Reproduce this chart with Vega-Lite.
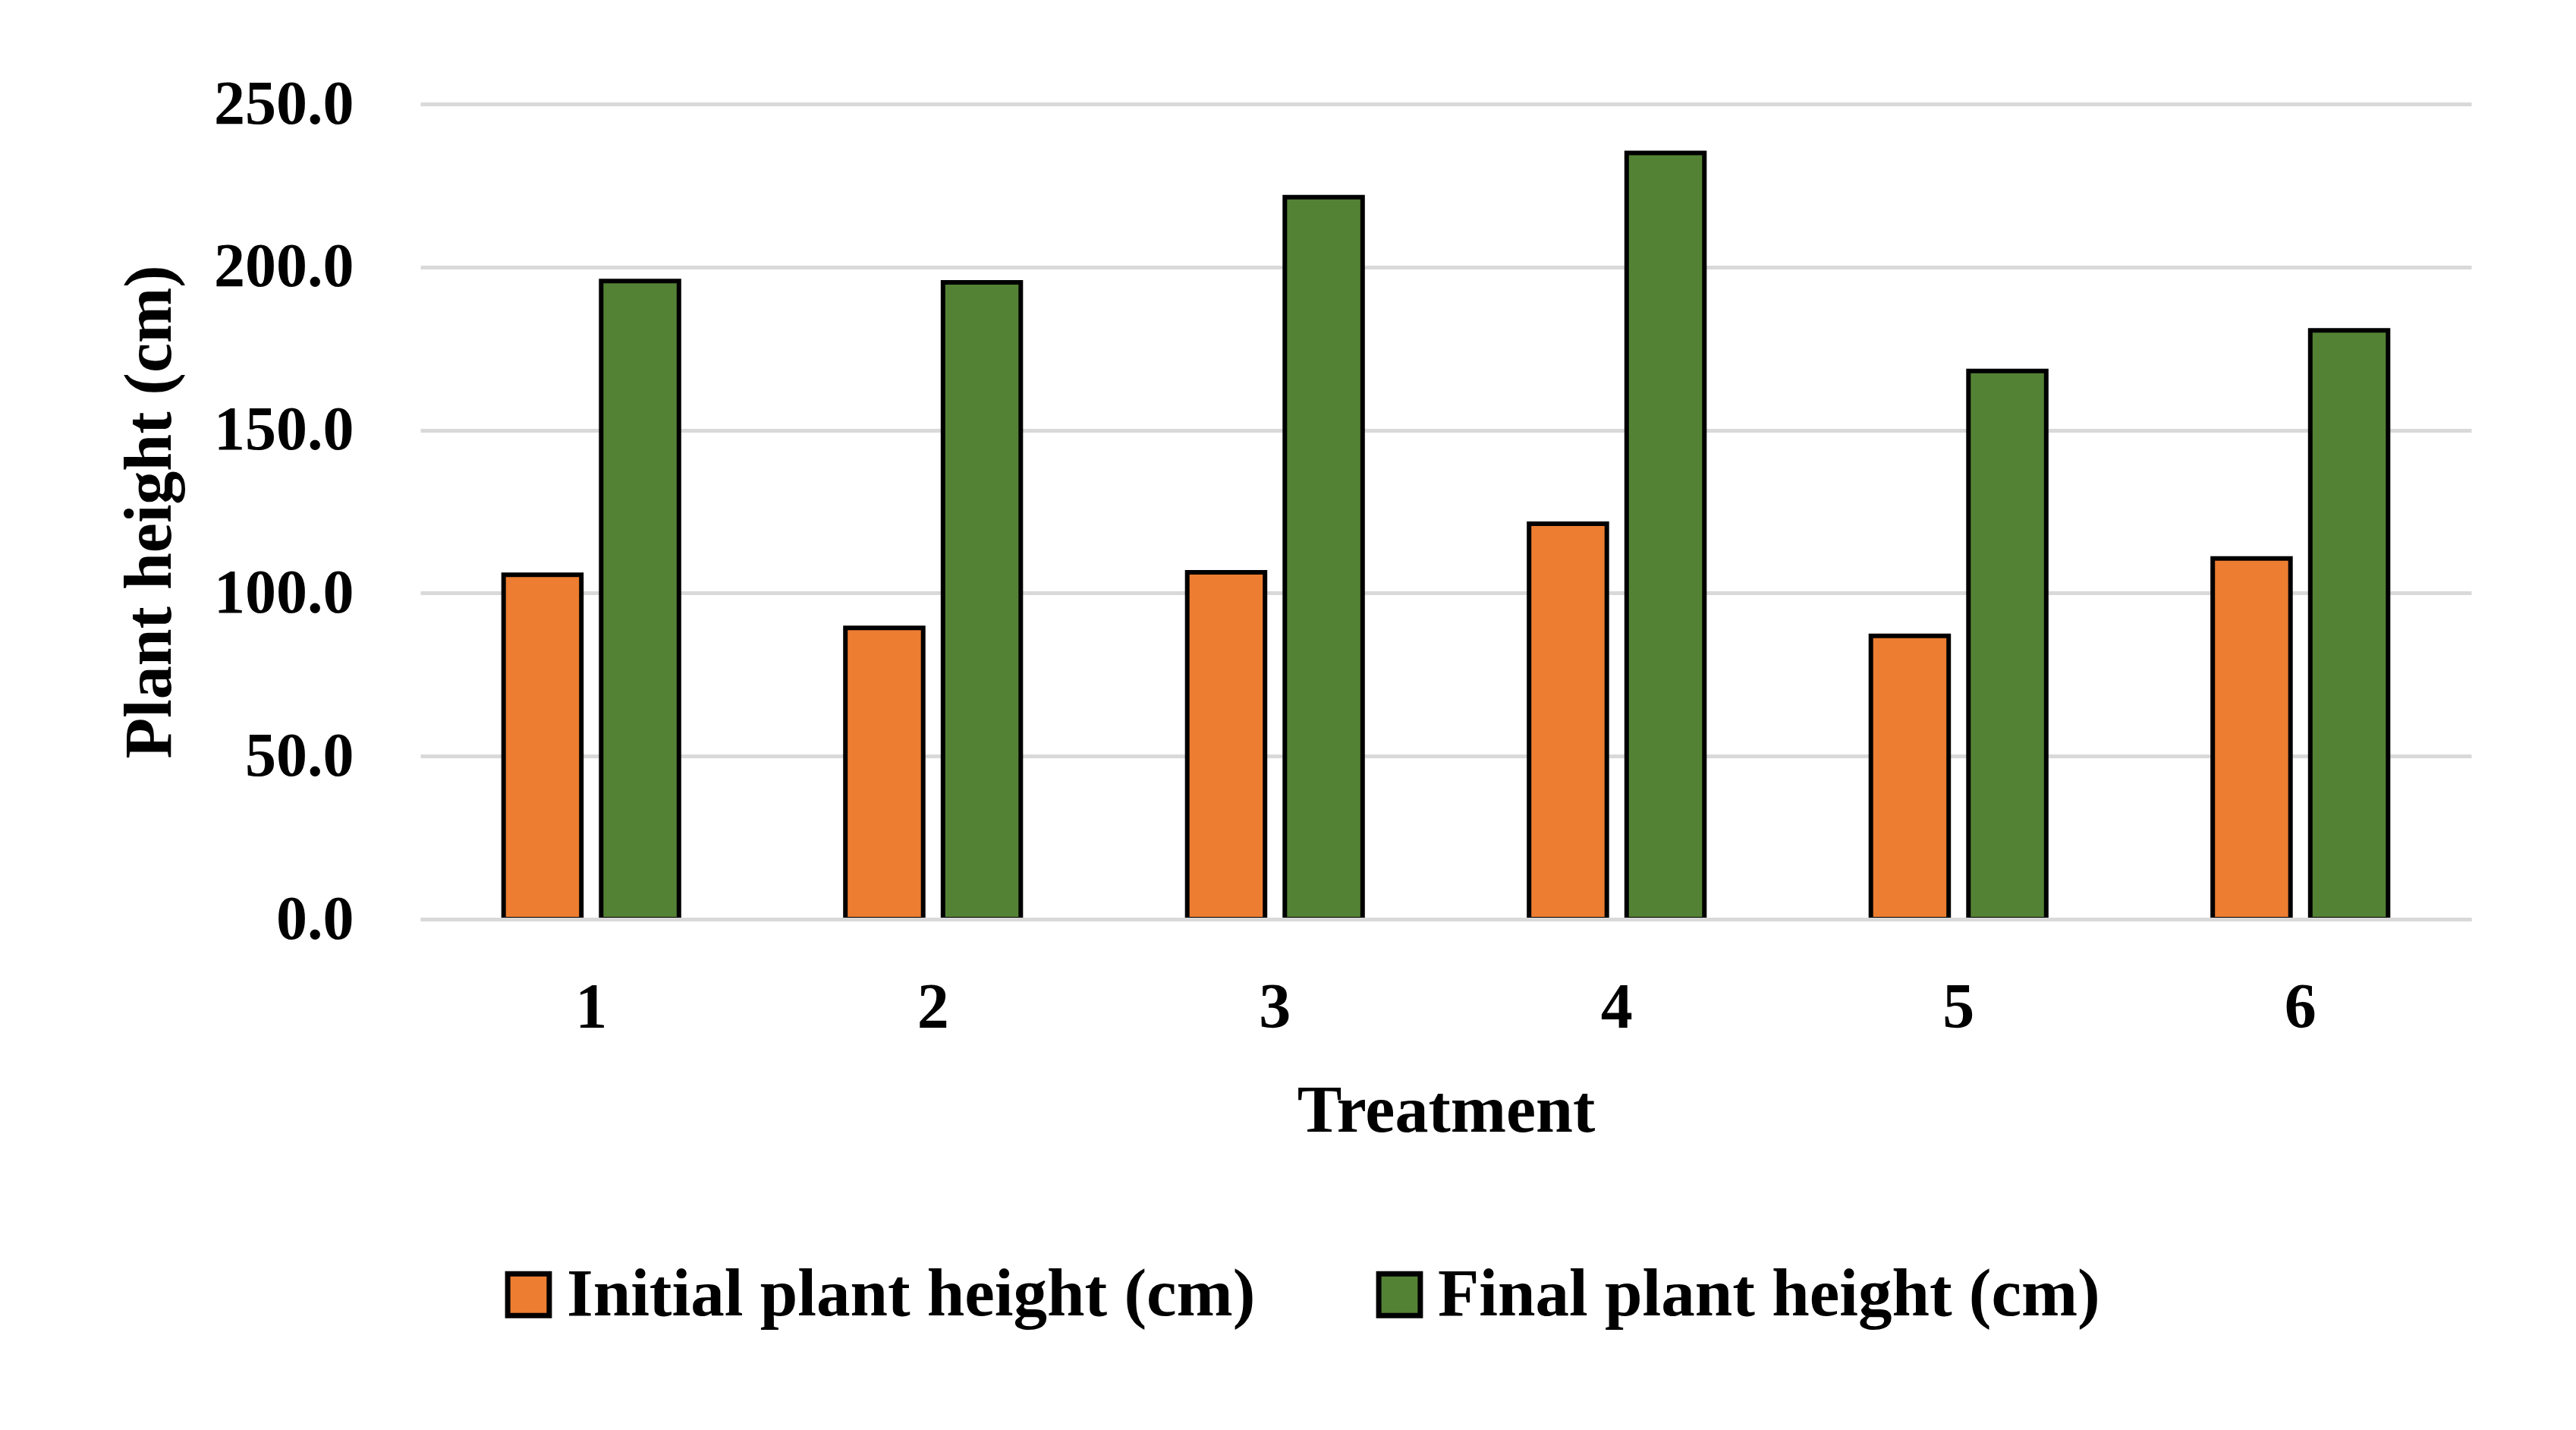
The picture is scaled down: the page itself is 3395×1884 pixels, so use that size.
{
  "$schema": "https://vega.github.io/schema/vega-lite/v6.json",
  "autosize": {"type": "none"},
  "padding": {"left": 554, "top": 137, "right": 138, "bottom": 673},
  "width": 2703,
  "height": 1074,
  "background": "white",
  "data": {
    "values": [
      {"treatment": "1", "series": "Initial plant height (cm)", "height": 105.6},
      {"treatment": "1", "series": "Final plant height (cm)", "height": 195.7},
      {"treatment": "2", "series": "Initial plant height (cm)", "height": 89.3},
      {"treatment": "2", "series": "Final plant height (cm)", "height": 195.3},
      {"treatment": "3", "series": "Initial plant height (cm)", "height": 106.4},
      {"treatment": "3", "series": "Final plant height (cm)", "height": 221.4},
      {"treatment": "4", "series": "Initial plant height (cm)", "height": 121.3},
      {"treatment": "4", "series": "Final plant height (cm)", "height": 235.0},
      {"treatment": "5", "series": "Initial plant height (cm)", "height": 86.9},
      {"treatment": "5", "series": "Final plant height (cm)", "height": 168.1},
      {"treatment": "6", "series": "Initial plant height (cm)", "height": 110.6},
      {"treatment": "6", "series": "Final plant height (cm)", "height": 180.6}
    ]
  },
  "mark": {"type": "bar", "stroke": "black", "strokeWidth": 6, "cornerRadius": 0},
  "encoding": {
    "x": {
      "field": "treatment",
      "type": "nominal",
      "scale": {"paddingInner": 0.487, "paddingOuter": 0.2435},
      "axis": {
        "title": "Treatment",
        "labelAngle": 0,
        "ticks": false,
        "domain": true,
        "domainColor": "#d9d9d9",
        "domainWidth": 5,
        "labelPadding": 76,
        "titlePadding": 50,
        "zindex": 1
      }
    },
    "xOffset": {
      "field": "series",
      "type": "nominal",
      "sort": ["Initial plant height (cm)", "Final plant height (cm)"],
      "scale": {"paddingInner": 0.203, "paddingOuter": 0}
    },
    "y": {
      "field": "height",
      "type": "quantitative",
      "scale": {"domain": [0, 250], "nice": false},
      "axis": {
        "title": "Plant height (cm)",
        "values": [0, 50, 100, 150, 200, 250],
        "format": ".1f",
        "domain": false,
        "ticks": false,
        "grid": true,
        "gridColor": "#d9d9d9",
        "gridWidth": 5,
        "labelFontSize": 82,
        "labelPadding": 88,
        "labelLimit": 1000,
        "titlePadding": 112
      }
    },
    "color": {
      "field": "series",
      "type": "nominal",
      "scale": {
        "domain": ["Initial plant height (cm)", "Final plant height (cm)"],
        "range": ["#ED7D31", "#548235"]
      },
      "legend": {
        "title": null,
        "orient": "none",
        "legendX": 98,
        "legendY": 1524,
        "direction": "horizontal",
        "symbolType": "square",
        "symbolSize": 3000,
        "symbolStrokeColor": "black",
        "symbolStrokeWidth": 7,
        "symbolOpacity": 1,
        "labelFont": "Liberation Serif",
        "labelFontSize": 89,
        "labelFontWeight": "bold",
        "labelColor": "black",
        "labelLimit": 3000,
        "labelOffset": 6,
        "columnPadding": 145
      }
    }
  },
  "config": {
    "view": {"stroke": null},
    "axis": {
      "labelFont": "Liberation Serif",
      "labelFontSize": 84,
      "labelFontWeight": "bold",
      "labelColor": "black",
      "titleFont": "Liberation Serif",
      "titleFontSize": 88,
      "titleFontWeight": "bold",
      "titleColor": "black"
    }
  }
}
